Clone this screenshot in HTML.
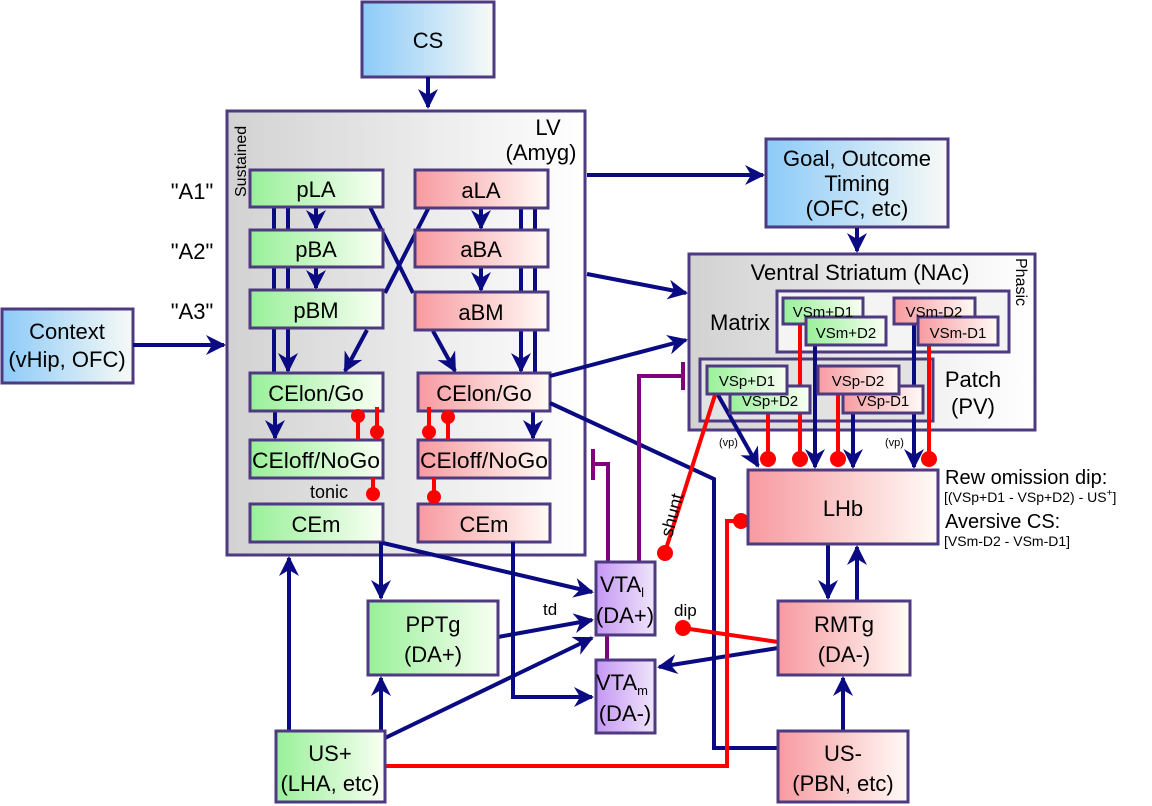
<!DOCTYPE html>
<html><head><meta charset="utf-8"><style>
html,body{margin:0;padding:0;background:#fff}
svg{display:block}
text{font-family:"Liberation Sans",Arial,sans-serif;fill:#000}
</style></head><body>
<svg width="1152" height="806" viewBox="0 0 1152 806" xmlns="http://www.w3.org/2000/svg">
<defs>
<linearGradient id="gb" x1="0" x2="1"><stop offset="0" stop-color="#8ccaf8"/><stop offset="1" stop-color="#f8faf6"/></linearGradient>
<linearGradient id="gg" x1="0" x2="1"><stop offset="0" stop-color="#98f098"/><stop offset="1" stop-color="#fafff4"/></linearGradient>
<linearGradient id="gr" x1="0" x2="1"><stop offset="0" stop-color="#f79aa0"/><stop offset="1" stop-color="#fffbf6"/></linearGradient>
<linearGradient id="gp" x1="0" x2="1"><stop offset="0" stop-color="#c596f4"/><stop offset="1" stop-color="#f0e6fa"/></linearGradient>
<linearGradient id="gs" x1="0" x2="1"><stop offset="0" stop-color="#d2d2d2"/><stop offset="1" stop-color="#ffffff"/></linearGradient>
<marker id="a" viewBox="0 0 10 10" refX="9" refY="5" markerWidth="5" markerHeight="5" orient="auto" markerUnits="strokeWidth">
<path d="M0,0 L10,5 L0,10 L3,5 z" fill="#0a0a82"/></marker>
</defs>
<g stroke="#4e3a80" stroke-width="3">
<rect x="362" y="2" width="132" height="75" fill="url(#gb)"/>
<rect x="227" y="111" width="358" height="444" fill="url(#gs)"/>
<rect x="766" y="139" width="182" height="88" fill="url(#gb)"/>
<rect x="689" y="254" width="346" height="176" fill="url(#gs)"/>
<rect x="2" y="309" width="131" height="74" fill="url(#gb)"/>
</g>
<g stroke="#0a0a82" stroke-width="4" fill="none">
<line x1="274" y1="207" x2="274" y2="373"/>
<line x1="288" y1="207" x2="288" y2="371" marker-end="url(#a)"/>
<line x1="535" y1="208" x2="535" y2="373"/>
<line x1="521" y1="208" x2="521" y2="371" marker-end="url(#a)"/>
<line x1="316" y1="207" x2="316" y2="228" marker-end="url(#a)"/>
<line x1="316" y1="267" x2="316" y2="288" marker-end="url(#a)"/>
<line x1="481" y1="208" x2="481" y2="228" marker-end="url(#a)"/>
<line x1="481" y1="267" x2="481" y2="290" marker-end="url(#a)"/>
<line x1="370" y1="207" x2="413" y2="293"/>
<line x1="429" y1="207" x2="385" y2="293"/>
<line x1="367" y1="330" x2="345" y2="371" marker-end="url(#a)"/>
<line x1="433" y1="331" x2="455" y2="371" marker-end="url(#a)"/>
<line x1="275" y1="411" x2="275" y2="438" marker-end="url(#a)"/>
<line x1="533" y1="411" x2="533" y2="438" marker-end="url(#a)"/>
</g>
<g stroke="#4e3a80" stroke-width="3">
<rect x="250" y="170" width="133" height="37" fill="url(#gg)"/>
<rect x="250" y="230" width="133" height="37" fill="url(#gg)"/>
<rect x="250" y="290" width="133" height="38" fill="url(#gg)"/>
<rect x="415" y="170" width="133" height="38" fill="url(#gr)"/>
<rect x="415" y="230" width="133" height="37" fill="url(#gr)"/>
<rect x="415" y="292" width="133" height="38" fill="url(#gr)"/>
<rect x="250" y="373" width="133" height="38" fill="url(#gg)"/>
<rect x="418" y="373" width="132" height="38" fill="url(#gr)"/>
<rect x="250" y="440" width="133" height="38" fill="url(#gg)"/>
<rect x="418" y="440" width="132" height="38" fill="url(#gr)"/>
<rect x="250" y="504" width="133" height="38" fill="url(#gg)"/>
<rect x="418" y="504" width="132" height="38" fill="url(#gr)"/>
</g>
<g stroke="#f00" stroke-width="4" fill="#f00">
<line x1="358" y1="440" x2="358" y2="416"/><circle cx="358" cy="416" r="7" stroke="none"/>
<line x1="377" y1="407" x2="377" y2="432"/><circle cx="377" cy="432" r="7" stroke="none"/>
<line x1="429" y1="407" x2="429" y2="432"/><circle cx="429" cy="432" r="7" stroke="none"/>
<line x1="448" y1="440" x2="448" y2="417"/><circle cx="448" cy="417" r="7" stroke="none"/>
<line x1="373" y1="478" x2="373" y2="493"/><circle cx="373" cy="494" r="7" stroke="none"/>
<line x1="434" y1="478" x2="434" y2="496"/><circle cx="434" cy="497" r="7" stroke="none"/>
</g>
<g stroke="#4e3a80" stroke-width="3">
<rect x="777" y="291" width="232" height="61" fill="#f4f4f4"/>
<rect x="700" y="359" width="233" height="62" fill="#e2e2e2"/>
</g>
<g stroke="#f00" stroke-width="4" fill="#f00">
<line x1="768" y1="413" x2="768" y2="458"/><circle cx="768" cy="459" r="8" stroke="none"/>
<line x1="800" y1="324" x2="800" y2="458"/><circle cx="800" cy="459" r="8" stroke="none"/>
<line x1="838" y1="394" x2="838" y2="458"/><circle cx="838" cy="459" r="8" stroke="none"/>
<line x1="929" y1="345" x2="929" y2="458"/><circle cx="929" cy="459" r="8" stroke="none"/>
</g>
<g stroke="#0a0a82" stroke-width="4" fill="none">
<line x1="815" y1="345" x2="815" y2="467" marker-end="url(#a)"/>
<line x1="853" y1="413" x2="853" y2="467" marker-end="url(#a)"/>
<line x1="914" y1="324" x2="914" y2="467" marker-end="url(#a)"/>
<line x1="718" y1="395" x2="758" y2="466" marker-end="url(#a)"/>
</g>
<g stroke="#4e3a80" stroke-width="3">
<rect x="783" y="298" width="80" height="26" fill="url(#gg)"/>
<rect x="806" y="317" width="80" height="28" fill="url(#gg)"/>
<rect x="894" y="298" width="81" height="26" fill="url(#gr)"/>
<rect x="918" y="317" width="80" height="28" fill="url(#gr)"/>
<rect x="730" y="386" width="80" height="27" fill="url(#gg)"/>
<rect x="707" y="366" width="80" height="28" fill="url(#gg)"/>
<rect x="843" y="386" width="80" height="27" fill="url(#gr)"/>
<rect x="818" y="366" width="81" height="28" fill="url(#gr)"/>
</g>
<g font-size="15" text-anchor="middle">
<text x="823" y="317">VSm+D1</text>
<text x="846" y="338">VSm+D2</text>
<text x="934" y="317">VSm-D2</text>
<text x="958" y="338">VSm-D1</text>
<text x="747" y="386">VSp+D1</text>
<text x="770" y="406">VSp+D2</text>
<text x="858" y="386">VSp-D2</text>
<text x="883" y="406">VSp-D1</text>
</g>
<g stroke="#0a0a82" stroke-width="4" fill="none">
<line x1="428" y1="77" x2="428" y2="107" marker-end="url(#a)"/>
<line x1="587" y1="175" x2="763" y2="175" marker-end="url(#a)"/>
<line x1="587" y1="274" x2="686" y2="293" marker-end="url(#a)"/>
<line x1="550" y1="376" x2="686" y2="340" marker-end="url(#a)"/>
<line x1="857" y1="228" x2="857" y2="251" marker-end="url(#a)"/>
<line x1="133" y1="345" x2="224" y2="345" marker-end="url(#a)"/>
<polyline points="550,403 714,479 714,748 778,748"/>
<line x1="383" y1="543" x2="592" y2="592" marker-end="url(#a)"/>
<line x1="381" y1="542" x2="381" y2="598" marker-end="url(#a)"/>
<polyline points="513,542 513,697 592,697" marker-end="url(#a)"/>
<line x1="498" y1="637" x2="592" y2="620" marker-end="url(#a)"/>
<line x1="385" y1="738" x2="592" y2="638" marker-end="url(#a)"/>
<line x1="381" y1="731" x2="381" y2="678" marker-end="url(#a)"/>
<line x1="289" y1="731" x2="289" y2="558" marker-end="url(#a)"/>
<line x1="778" y1="648" x2="659" y2="667" marker-end="url(#a)"/>
<line x1="843" y1="731" x2="843" y2="678" marker-end="url(#a)"/>
<line x1="828" y1="545" x2="828" y2="598" marker-end="url(#a)"/>
<line x1="857" y1="600" x2="857" y2="547" marker-end="url(#a)"/>
</g>
<g stroke="#800080" stroke-width="4" fill="none">
<polyline points="639,562 639,376 683,376"/>
<line x1="683" y1="362" x2="683" y2="390"/>
<polyline points="608,562 608,464 593,464"/>
<line x1="593" y1="449" x2="593" y2="480"/>
<line x1="607" y1="635" x2="607" y2="660"/>
</g>
<g stroke="#f00" stroke-width="4" fill="none">
<line x1="715" y1="395" x2="665" y2="552"/>
<polyline points="385,766 727,766 727,521 740,521"/>
<line x1="778" y1="642" x2="683" y2="628"/>
</g>
<g fill="#f00"><circle cx="665" cy="553" r="8"/><circle cx="741" cy="521" r="8"/><circle cx="683" cy="628" r="8"/></g>
<g stroke="#4e3a80" stroke-width="3">
<rect x="748" y="470" width="190" height="74" fill="url(#gr)"/>
<rect x="368" y="601" width="130" height="74" fill="url(#gg)"/>
<rect x="596" y="562" width="59" height="73" fill="url(#gp)"/>
<rect x="596" y="660" width="59" height="73" fill="url(#gp)"/>
<rect x="778" y="601" width="132" height="74" fill="url(#gr)"/>
<rect x="276" y="731" width="109" height="71" fill="url(#gg)"/>
<rect x="778" y="731" width="130" height="71" fill="url(#gr)"/>
</g>
<g font-size="22" text-anchor="middle">
<text x="428" y="48">CS</text>
<text x="316" y="197">pLA</text><text x="316" y="257">pBA</text><text x="316" y="318">pBM</text>
<text x="481" y="198">aLA</text><text x="481" y="257">aBA</text><text x="481" y="320">aBM</text>
<text x="316" y="401">CElon/Go</text><text x="484" y="401">CElon/Go</text>
<text x="316" y="468" textLength="128" lengthAdjust="spacingAndGlyphs">CEloff/NoGo</text><text x="484" y="468" textLength="128" lengthAdjust="spacingAndGlyphs">CEloff/NoGo</text>
<text x="316" y="532">CEm</text><text x="484" y="532">CEm</text>
<text x="857" y="166">Goal, Outcome</text><text x="857" y="191">Timing</text><text x="857" y="216">(OFC, etc)</text>
<text x="67" y="339">Context</text><text x="67" y="367">(vHip, OFC)</text>
<text x="843" y="516">LHb</text>
<text x="433" y="632">PPTg</text><text x="433" y="662">(DA+)</text>
<text x="844" y="632">RMTg</text><text x="844" y="662">(DA-)</text>
<text x="330" y="761">US+</text><text x="330" y="791">(LHA, etc)</text>
<text x="843" y="761">US-</text><text x="843" y="791">(PBN, etc)</text>
<text x="622" y="592">VTA<tspan font-size="13" dy="5">l</tspan></text><text x="625" y="623">(DA+)</text>
<text x="622" y="690">VTA<tspan font-size="13" dy="5">m</tspan></text><text x="625" y="721">(DA-)</text>
<text x="192" y="199">"A1"</text><text x="192" y="259">"A2"</text><text x="192" y="319">"A3"</text>
<text x="548" y="135">LV</text><text x="541" y="160">(Amyg)</text>
<text x="860" y="280">Ventral Striatum (NAc)</text>
<text x="740" y="330">Matrix</text>
<text x="973" y="387">Patch</text><text x="973" y="414">(PV)</text>
</g>
<text x="246" y="197" font-size="16" transform="rotate(-90 246 197)">Sustained</text>
<text x="1016" y="258" font-size="16" transform="rotate(90 1016 258)">Phasic</text>
<text x="310" y="498" font-size="18">tonic</text>
<text x="543" y="615" font-size="17">td</text>
<text x="674" y="616" font-size="17">dip</text>
<text x="672" y="538" font-size="18" transform="rotate(-75 672 538)">shunt</text>
<text x="719" y="446" font-size="11">(vp)</text>
<text x="885" y="446" font-size="11">(vp)</text>
<text x="945" y="484" font-size="20">Rew omission dip:</text>
<text x="944" y="502" font-size="14">[(VSp+D1 - VSp+D2) - US<tspan dy="-6" font-size="10">+</tspan><tspan dy="6">]</tspan></text>
<text x="945" y="528" font-size="20">Aversive CS:</text>
<text x="944" y="546" font-size="14">[VSm-D2 - VSm-D1]</text>
</svg>
</body></html>
